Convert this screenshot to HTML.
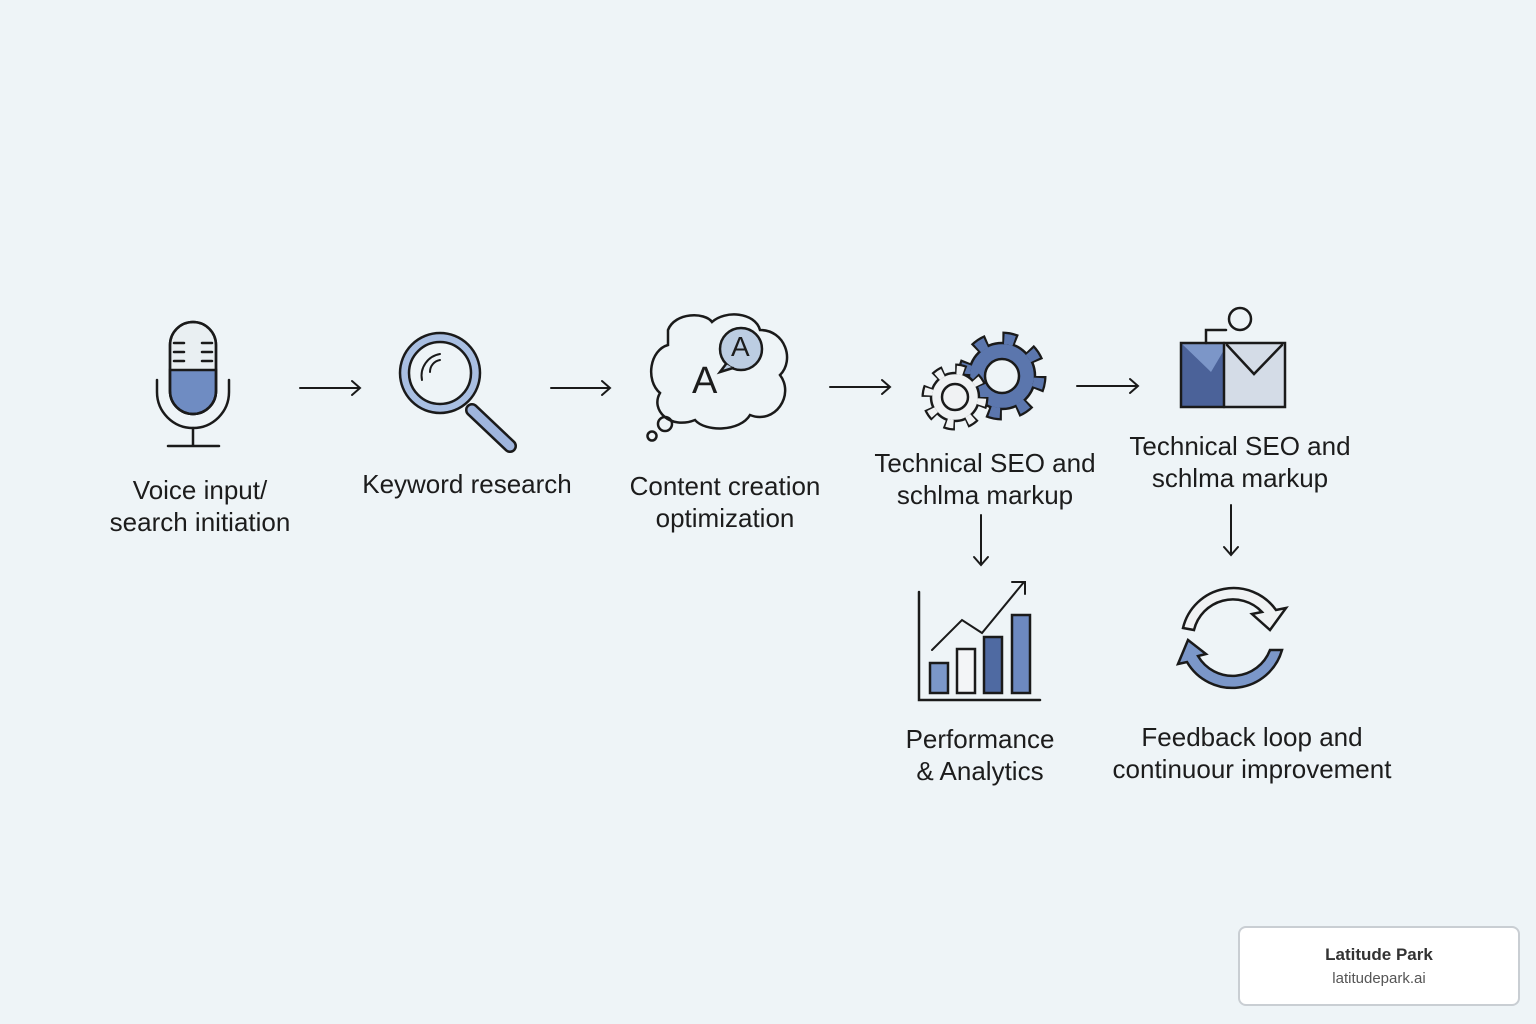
<!DOCTYPE html>
<html><head><style>
html,body{margin:0;padding:0}
body{width:1536px;height:1024px;background:#eef4f7;position:relative;overflow:hidden;font-family:"Liberation Sans",sans-serif;color:#1c1c1c}
.t{position:absolute;font-size:26px;line-height:32px;text-align:center;white-space:nowrap;transform:translateX(-50%)}
.card{position:absolute;left:1238px;top:926px;width:282px;height:80px;background:#fff;border:2px solid #c9ced3;border-radius:8px;text-align:center;box-sizing:border-box}
</style></head><body>
<svg width="1536" height="1024" style="position:absolute;left:0;top:0" fill="none" stroke="#1a1a1a" stroke-width="2.5" stroke-linecap="round">
<!-- mic -->
<rect x="170" y="322" width="46" height="92" rx="23" fill="#e9eff2"/>
<path d="M170 370 H216 V391 A23 23 0 0 1 170 391 Z" fill="#6f8cc2"/>
<rect x="170" y="322" width="46" height="92" rx="23"/>
<path d="M174 343h10M202 343h10M174 352h10M202 352h10M174 361h10M202 361h10"/>
<path d="M157 380 V392 A36 36 0 0 0 229 392 V380"/>
<path d="M193 428 V445 M168 446 H219"/>
<!-- arrows -->
<g stroke-width="2"><path d="M300 388H360M352 381l8 7-8 7"/><path d="M551 388H610M602 381l8 7-8 7"/><path d="M830 387H890M882 380l8 7-8 7"/><path d="M1077 386H1138M1130 379l8 7-8 7"/>
<path d="M981 515V565M974 557l7 8 7-8"/><path d="M1231 505V555M1224 547l7 8 7-8"/></g>
<!-- magnifier -->
<path d="M472 410 L510 446" stroke="#1a1a1a" stroke-width="14"/>
<path d="M472 410 L510 446" stroke="#9fb5dd" stroke-width="9"/>
<circle cx="440" cy="373" r="40" fill="#a9bfe2"/>
<circle cx="440" cy="373" r="31" fill="#eef4f7"/>
<path d="M422 380 A22 22 0 0 1 440 354 M430 372 A12 12 0 0 1 440 360" stroke-width="2"/>
<!-- cloud -->
<path d="M668 330 C675 312 705 312 712 322 C725 310 755 312 760 330 C785 330 795 360 780 375 C795 395 775 425 750 415 C740 432 705 432 695 420 C670 430 650 410 660 393 C645 380 650 350 668 345 Z" fill="#eef4f7"/>
<circle cx="741" cy="349" r="21" fill="#bccde2"/>
<path d="M726 364 L720 372 L733 368" fill="#bccde2"/>
<circle cx="665" cy="424" r="7"/><circle cx="652" cy="436" r="4.5"/>
<!-- gears -->
<g transform="translate(1002,376)" stroke-linecap="butt">
<circle r="37" stroke="#1a1a1a" stroke-width="15" stroke-dasharray="14 15.07"/>
<circle r="33" fill="#5b76ad" stroke="#1a1a1a" stroke-width="2.5"/>
<circle r="37" stroke="#5b76ad" stroke-width="10.5" stroke-dasharray="10 19.07" stroke-dashoffset="-2"/>
<circle r="17" fill="#eef4f7" stroke="#1a1a1a" stroke-width="2.5"/></g>
<g transform="translate(955,397)" stroke-linecap="butt">
<circle r="27" stroke="#1a1a1a" stroke-width="13" stroke-dasharray="10 11.2"/>
<circle r="24" fill="#f0f2f3" stroke="#1a1a1a" stroke-width="2.5"/>
<circle r="27" stroke="#f0f2f3" stroke-width="8.5" stroke-dasharray="7 14.2" stroke-dashoffset="-1.5"/>
<circle r="13" fill="#f0f2f3" stroke="#1a1a1a" stroke-width="2.5"/></g>
<!-- envelope -->
<rect x="1181" y="343" width="43" height="64" fill="#4b6299" stroke="none"/>
<path d="M1181 343 L1211 372 L1224 350 L1224 343 Z" fill="#7c96c8" stroke="none"/>
<rect x="1224" y="343" width="61" height="64" fill="#d4dce7" stroke="none"/>
<rect x="1181" y="343" width="104" height="64"/>
<path d="M1224 343 V407 M1227 345 L1254 374 L1282 345"/>
<path d="M1206 343 V330 H1226"/><circle cx="1240" cy="319" r="11"/>
<!-- chart -->
<path d="M919 592 V700 H1040"/>
<rect x="930" y="663" width="18" height="30" fill="#7b97c9"/>
<rect x="957" y="649" width="18" height="44" fill="#f3f5f7"/>
<rect x="984" y="637" width="18" height="56" fill="#4f6aa2"/>
<rect x="1012" y="615" width="18" height="78" fill="#6d89c0"/>
<path d="M932 650 L962 620 L982 633 L1024 582 M1012 582 H1025 V594" stroke-width="2"/>
<!-- cycle -->
<path d="M1183 628 A52 52 0 0 1 1276 610 L1286 608 L1270 630 L1252 614 L1262 612 A40 40 0 0 0 1194 630 Z" fill="#f0f2f3"/>
<path d="M1282 650 A52 52 0 0 1 1187 662 L1178 664 L1188 640 L1206 654 L1198 656 A40 40 0 0 0 1270 650 Z" fill="#7b97c9"/>
</svg>
<div style="position:absolute;left:692px;top:360px;font-size:38px">A</div>
<div style="position:absolute;left:731px;top:331px;font-size:28px">A</div>
<div class="t" style="left:200px;top:474px">Voice input/<br>search initiation</div>
<div class="t" style="left:467px;top:468px">Keyword research</div>
<div class="t" style="left:725px;top:470px">Content creation<br>optimization</div>
<div class="t" style="left:985px;top:447px">Technical SEO and<br>schlma markup</div>
<div class="t" style="left:1240px;top:430px">Technical SEO and<br>schlma markup</div>
<div class="t" style="left:980px;top:723px">Performance<br>&amp; Analytics</div>
<div class="t" style="left:1252px;top:721px">Feedback loop and<br>continuour improvement</div>
<div class="card"><div style="font-size:17px;font-weight:bold;margin-top:17px;color:#333">Latitude Park</div><div style="font-size:15px;color:#555;margin-top:5px">latitudepark.ai</div></div>
</body></html>
